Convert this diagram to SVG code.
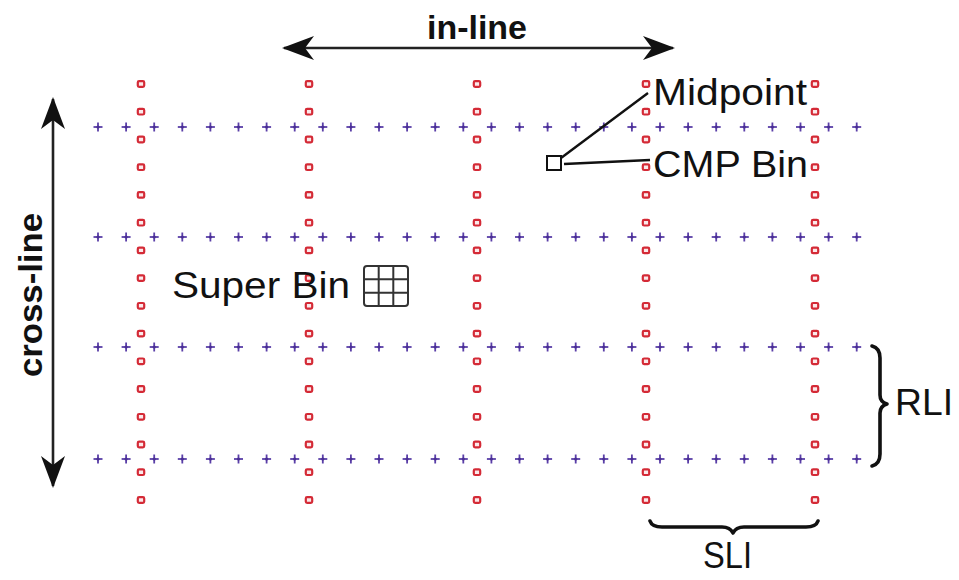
<svg xmlns="http://www.w3.org/2000/svg" xmlns:xlink="http://www.w3.org/1999/xlink" width="959" height="580" viewBox="0 0 959 580">
<style>
.lbl{font-family:"Liberation Sans",Arial,sans-serif;fill:#111;}
.big{font-weight:bold;font-size:34px;}
.reg{font-size:37px;}
.conn{stroke:#222;stroke-width:2.6;fill:none;}
.lead{stroke:#111;stroke-width:2.4;fill:none;}
.brace{stroke:#111;stroke-width:3.6;fill:none;stroke-linecap:round;stroke-linejoin:round;}
.rs{fill:#fbe9ea;stroke:#d42a36;stroke-width:2.2;}
.bx{stroke:#5a3fa8;stroke-width:1.8;}
</style>
<defs>
<marker id="ah" markerUnits="userSpaceOnUse" markerWidth="32" markerHeight="24" viewBox="0 0 32 24" refX="30" refY="12" orient="auto-start-reverse">
<path d="M0,0 L32,12 L0,24 L9,12 Z" fill="#111"/>
</marker>
<rect id="rsq" class="rs" x="-3.2" y="-2.8" width="6.4" height="5.6" rx="1.3"/>
<g id="bcr"><line class="bx" x1="-4.5" y1="0" x2="4.5" y2="0"/><line class="bx" x1="0" y1="-4.5" x2="0" y2="4.5"/><circle r="1.6" fill="#4a2f94"/></g>
</defs>
<rect width="959" height="580" fill="#fff"/>
<g id="receivers">
<use xlink:href="#bcr" x="98" y="127"/><use xlink:href="#bcr" x="126.1" y="127"/><use xlink:href="#bcr" x="154.2" y="127"/><use xlink:href="#bcr" x="182.3" y="127"/><use xlink:href="#bcr" x="210.4" y="127"/><use xlink:href="#bcr" x="238.5" y="127"/><use xlink:href="#bcr" x="266.6" y="127"/><use xlink:href="#bcr" x="294.7" y="127"/><use xlink:href="#bcr" x="322.8" y="127"/><use xlink:href="#bcr" x="350.9" y="127"/><use xlink:href="#bcr" x="379" y="127"/><use xlink:href="#bcr" x="407.1" y="127"/><use xlink:href="#bcr" x="435.2" y="127"/><use xlink:href="#bcr" x="463.3" y="127"/><use xlink:href="#bcr" x="491.4" y="127"/><use xlink:href="#bcr" x="519.5" y="127"/><use xlink:href="#bcr" x="547.6" y="127"/><use xlink:href="#bcr" x="575.7" y="127"/><use xlink:href="#bcr" x="603.8" y="127"/><use xlink:href="#bcr" x="631.9" y="127"/><use xlink:href="#bcr" x="660" y="127"/><use xlink:href="#bcr" x="688.1" y="127"/><use xlink:href="#bcr" x="716.2" y="127"/><use xlink:href="#bcr" x="744.3" y="127"/><use xlink:href="#bcr" x="772.4" y="127"/><use xlink:href="#bcr" x="800.5" y="127"/><use xlink:href="#bcr" x="828.6" y="127"/><use xlink:href="#bcr" x="856.7" y="127"/>
<use xlink:href="#bcr" x="98" y="237"/><use xlink:href="#bcr" x="126.1" y="237"/><use xlink:href="#bcr" x="154.2" y="237"/><use xlink:href="#bcr" x="182.3" y="237"/><use xlink:href="#bcr" x="210.4" y="237"/><use xlink:href="#bcr" x="238.5" y="237"/><use xlink:href="#bcr" x="266.6" y="237"/><use xlink:href="#bcr" x="294.7" y="237"/><use xlink:href="#bcr" x="322.8" y="237"/><use xlink:href="#bcr" x="350.9" y="237"/><use xlink:href="#bcr" x="379" y="237"/><use xlink:href="#bcr" x="407.1" y="237"/><use xlink:href="#bcr" x="435.2" y="237"/><use xlink:href="#bcr" x="463.3" y="237"/><use xlink:href="#bcr" x="491.4" y="237"/><use xlink:href="#bcr" x="519.5" y="237"/><use xlink:href="#bcr" x="547.6" y="237"/><use xlink:href="#bcr" x="575.7" y="237"/><use xlink:href="#bcr" x="603.8" y="237"/><use xlink:href="#bcr" x="631.9" y="237"/><use xlink:href="#bcr" x="660" y="237"/><use xlink:href="#bcr" x="688.1" y="237"/><use xlink:href="#bcr" x="716.2" y="237"/><use xlink:href="#bcr" x="744.3" y="237"/><use xlink:href="#bcr" x="772.4" y="237"/><use xlink:href="#bcr" x="800.5" y="237"/><use xlink:href="#bcr" x="828.6" y="237"/><use xlink:href="#bcr" x="856.7" y="237"/>
<use xlink:href="#bcr" x="98" y="347"/><use xlink:href="#bcr" x="126.1" y="347"/><use xlink:href="#bcr" x="154.2" y="347"/><use xlink:href="#bcr" x="182.3" y="347"/><use xlink:href="#bcr" x="210.4" y="347"/><use xlink:href="#bcr" x="238.5" y="347"/><use xlink:href="#bcr" x="266.6" y="347"/><use xlink:href="#bcr" x="294.7" y="347"/><use xlink:href="#bcr" x="322.8" y="347"/><use xlink:href="#bcr" x="350.9" y="347"/><use xlink:href="#bcr" x="379" y="347"/><use xlink:href="#bcr" x="407.1" y="347"/><use xlink:href="#bcr" x="435.2" y="347"/><use xlink:href="#bcr" x="463.3" y="347"/><use xlink:href="#bcr" x="491.4" y="347"/><use xlink:href="#bcr" x="519.5" y="347"/><use xlink:href="#bcr" x="547.6" y="347"/><use xlink:href="#bcr" x="575.7" y="347"/><use xlink:href="#bcr" x="603.8" y="347"/><use xlink:href="#bcr" x="631.9" y="347"/><use xlink:href="#bcr" x="660" y="347"/><use xlink:href="#bcr" x="688.1" y="347"/><use xlink:href="#bcr" x="716.2" y="347"/><use xlink:href="#bcr" x="744.3" y="347"/><use xlink:href="#bcr" x="772.4" y="347"/><use xlink:href="#bcr" x="800.5" y="347"/><use xlink:href="#bcr" x="828.6" y="347"/><use xlink:href="#bcr" x="856.7" y="347"/>
<use xlink:href="#bcr" x="98" y="459"/><use xlink:href="#bcr" x="126.1" y="459"/><use xlink:href="#bcr" x="154.2" y="459"/><use xlink:href="#bcr" x="182.3" y="459"/><use xlink:href="#bcr" x="210.4" y="459"/><use xlink:href="#bcr" x="238.5" y="459"/><use xlink:href="#bcr" x="266.6" y="459"/><use xlink:href="#bcr" x="294.7" y="459"/><use xlink:href="#bcr" x="322.8" y="459"/><use xlink:href="#bcr" x="350.9" y="459"/><use xlink:href="#bcr" x="379" y="459"/><use xlink:href="#bcr" x="407.1" y="459"/><use xlink:href="#bcr" x="435.2" y="459"/><use xlink:href="#bcr" x="463.3" y="459"/><use xlink:href="#bcr" x="491.4" y="459"/><use xlink:href="#bcr" x="519.5" y="459"/><use xlink:href="#bcr" x="547.6" y="459"/><use xlink:href="#bcr" x="575.7" y="459"/><use xlink:href="#bcr" x="603.8" y="459"/><use xlink:href="#bcr" x="631.9" y="459"/><use xlink:href="#bcr" x="660" y="459"/><use xlink:href="#bcr" x="688.1" y="459"/><use xlink:href="#bcr" x="716.2" y="459"/><use xlink:href="#bcr" x="744.3" y="459"/><use xlink:href="#bcr" x="772.4" y="459"/><use xlink:href="#bcr" x="800.5" y="459"/><use xlink:href="#bcr" x="828.6" y="459"/><use xlink:href="#bcr" x="856.7" y="459"/>
</g>
<g id="sources">
<use xlink:href="#rsq" x="141" y="84"/><use xlink:href="#rsq" x="141" y="111.7"/><use xlink:href="#rsq" x="141" y="139.5"/><use xlink:href="#rsq" x="141" y="167.2"/><use xlink:href="#rsq" x="141" y="194.9"/><use xlink:href="#rsq" x="141" y="222.7"/><use xlink:href="#rsq" x="141" y="250.4"/><use xlink:href="#rsq" x="141" y="278.1"/><use xlink:href="#rsq" x="141" y="305.8"/><use xlink:href="#rsq" x="141" y="333.6"/><use xlink:href="#rsq" x="141" y="361.3"/><use xlink:href="#rsq" x="141" y="389"/><use xlink:href="#rsq" x="141" y="416.8"/><use xlink:href="#rsq" x="141" y="444.5"/><use xlink:href="#rsq" x="141" y="472.2"/><use xlink:href="#rsq" x="141" y="500"/>
<use xlink:href="#rsq" x="309" y="84"/><use xlink:href="#rsq" x="309" y="111.7"/><use xlink:href="#rsq" x="309" y="139.5"/><use xlink:href="#rsq" x="309" y="167.2"/><use xlink:href="#rsq" x="309" y="194.9"/><use xlink:href="#rsq" x="309" y="222.7"/><use xlink:href="#rsq" x="309" y="250.4"/><use xlink:href="#rsq" x="309" y="278.1"/><use xlink:href="#rsq" x="309" y="305.8"/><use xlink:href="#rsq" x="309" y="333.6"/><use xlink:href="#rsq" x="309" y="361.3"/><use xlink:href="#rsq" x="309" y="389"/><use xlink:href="#rsq" x="309" y="416.8"/><use xlink:href="#rsq" x="309" y="444.5"/><use xlink:href="#rsq" x="309" y="472.2"/><use xlink:href="#rsq" x="309" y="500"/>
<use xlink:href="#rsq" x="477" y="84"/><use xlink:href="#rsq" x="477" y="111.7"/><use xlink:href="#rsq" x="477" y="139.5"/><use xlink:href="#rsq" x="477" y="167.2"/><use xlink:href="#rsq" x="477" y="194.9"/><use xlink:href="#rsq" x="477" y="222.7"/><use xlink:href="#rsq" x="477" y="250.4"/><use xlink:href="#rsq" x="477" y="278.1"/><use xlink:href="#rsq" x="477" y="305.8"/><use xlink:href="#rsq" x="477" y="333.6"/><use xlink:href="#rsq" x="477" y="361.3"/><use xlink:href="#rsq" x="477" y="389"/><use xlink:href="#rsq" x="477" y="416.8"/><use xlink:href="#rsq" x="477" y="444.5"/><use xlink:href="#rsq" x="477" y="472.2"/><use xlink:href="#rsq" x="477" y="500"/>
<use xlink:href="#rsq" x="646" y="84"/><use xlink:href="#rsq" x="646" y="111.7"/><use xlink:href="#rsq" x="646" y="139.5"/><use xlink:href="#rsq" x="646" y="167.2"/><use xlink:href="#rsq" x="646" y="194.9"/><use xlink:href="#rsq" x="646" y="222.7"/><use xlink:href="#rsq" x="646" y="250.4"/><use xlink:href="#rsq" x="646" y="278.1"/><use xlink:href="#rsq" x="646" y="305.8"/><use xlink:href="#rsq" x="646" y="333.6"/><use xlink:href="#rsq" x="646" y="361.3"/><use xlink:href="#rsq" x="646" y="389"/><use xlink:href="#rsq" x="646" y="416.8"/><use xlink:href="#rsq" x="646" y="444.5"/><use xlink:href="#rsq" x="646" y="472.2"/><use xlink:href="#rsq" x="646" y="500"/>
<use xlink:href="#rsq" x="815" y="84"/><use xlink:href="#rsq" x="815" y="111.7"/><use xlink:href="#rsq" x="815" y="139.5"/><use xlink:href="#rsq" x="815" y="167.2"/><use xlink:href="#rsq" x="815" y="194.9"/><use xlink:href="#rsq" x="815" y="222.7"/><use xlink:href="#rsq" x="815" y="250.4"/><use xlink:href="#rsq" x="815" y="278.1"/><use xlink:href="#rsq" x="815" y="305.8"/><use xlink:href="#rsq" x="815" y="333.6"/><use xlink:href="#rsq" x="815" y="361.3"/><use xlink:href="#rsq" x="815" y="389"/><use xlink:href="#rsq" x="815" y="416.8"/><use xlink:href="#rsq" x="815" y="444.5"/><use xlink:href="#rsq" x="815" y="472.2"/><use xlink:href="#rsq" x="815" y="500"/>
</g>
<g id="connectors">
<line class="conn" x1="284" y1="48" x2="673" y2="48" marker-start="url(#ah)" marker-end="url(#ah)"/>
<line class="conn" x1="53" y1="99" x2="53" y2="486" marker-start="url(#ah)" marker-end="url(#ah)"/>
<path class="lead" d="M561,158 L648,93"/>
<path class="lead" d="M564,164 L650,160"/>
<path class="brace" d="M872,346 Q880,348 880,358 L880,395 Q880,402 887,404 Q880,406 880,413 L880,454 Q880,464 872,466"/>
<path class="brace" d="M650,521 Q652,527 662,527 L722,527 Q730,527 733,533 Q736,527 744,527 L806,527 Q816,527 818,521"/>
</g>
<g id="label-inline"><text class="lbl big" x="477" y="39" text-anchor="middle" textLength="100" lengthAdjust="spacingAndGlyphs">in-line</text></g>
<g id="label-crossline"><text class="lbl big" transform="translate(42,295) rotate(-90)" x="0" y="0" text-anchor="middle" textLength="164" lengthAdjust="spacingAndGlyphs">cross-line</text></g>
<g id="label-midpoint"><text class="lbl reg" x="653" y="105" textLength="154" lengthAdjust="spacingAndGlyphs">Midpoint</text></g>
<g id="cmp-bin"><rect x="547" y="156" width="14" height="14" fill="none" stroke="#111" stroke-width="2"/><text class="lbl reg" x="653" y="177" textLength="155" lengthAdjust="spacingAndGlyphs">CMP Bin</text></g>
<g id="super-bin"><text class="lbl reg" x="172" y="298" textLength="178" lengthAdjust="spacingAndGlyphs">Super Bin</text>
<rect x="364" y="266" width="44" height="40" rx="3" fill="none" stroke="#333" stroke-width="2"/>
<path d="M378.7,266 V306 M393.3,266 V306 M364,279.3 H408 M364,292.7 H408" stroke="#333" stroke-width="2" fill="none"/></g>
<g id="label-rli"><text class="lbl reg" x="895" y="415" textLength="58" lengthAdjust="spacingAndGlyphs">RLI</text></g>
<g id="label-sli"><text class="lbl reg" x="703" y="568" textLength="49" lengthAdjust="spacingAndGlyphs">SLI</text></g>
</svg>
